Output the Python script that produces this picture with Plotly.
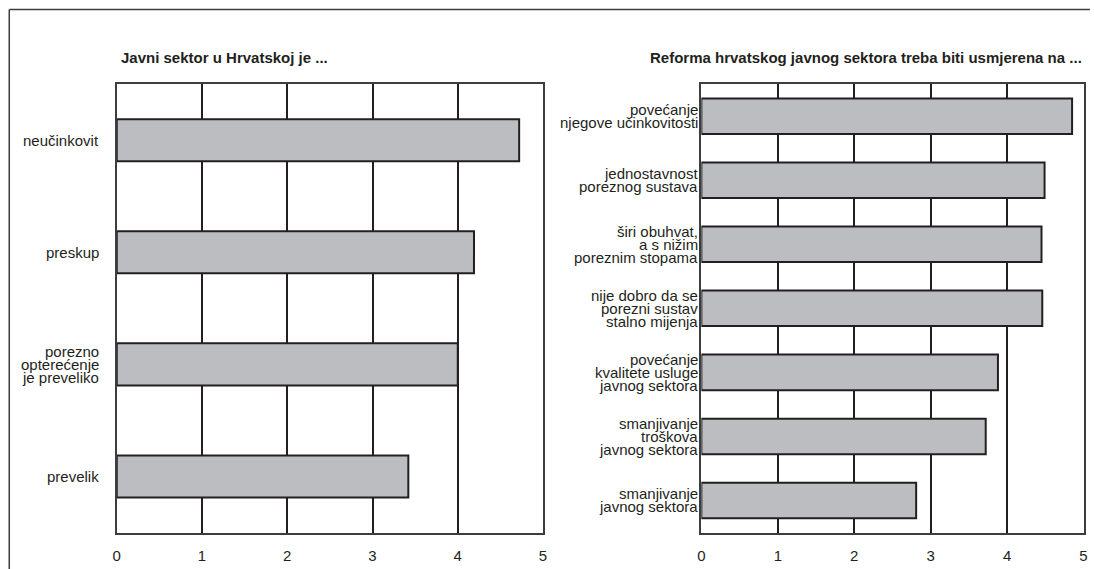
import plotly.graph_objects as go

# ---------------- data ----------------
left_title = "Javni sektor u Hrvatskoj je ..."
left_categories = [
    "neučinkovit",
    "preskup",
    "porezno<br>opterećenje<br>je preveliko",
    "prevelik",
]
left_values = [4.72, 4.19, 4.00, 3.42]

right_title = "Reforma hrvatskog javnog sektora treba biti usmjerena na ..."
right_categories = [
    "povećanje<br>njegove učinkovitosti",
    "jednostavnost<br>poreznog sustava",
    "širi obuhvat,<br>a s nižim<br>poreznim stopama",
    "nije dobro da se<br>porezni sustav<br>stalno mijenja",
    "povećanje<br>kvalitete usluge<br>javnog sektora",
    "smanjivanje<br>troškova<br>javnog sektora",
    "smanjivanje<br>javnog sektora",
]
right_values = [4.85, 4.49, 4.45, 4.46, 3.88, 3.72, 2.81]

x_ticks = [0, 1, 2, 3, 4, 5]

# ---------------- style ----------------
W, H = 1094, 569
FONT = "Liberation Sans, Arial, Helvetica, sans-serif"
BAR_FILL = "#bcbdc1"
INK = "#231f20"
FRAME = "#3d3d3d"
LINE_STEP = 13  # px between label lines

fig = go.Figure()

fig.add_trace(go.Bar(
    x=left_values, y=list(range(len(left_categories))), orientation="h",
    width=0.375, marker=dict(color=BAR_FILL, line=dict(color=INK, width=2)),
    xaxis="x", yaxis="y", hoverinfo="skip",
))
fig.add_trace(go.Bar(
    x=right_values, y=list(range(len(right_categories))), orientation="h",
    width=0.555, marker=dict(color=BAR_FILL, line=dict(color=INK, width=2)),
    xaxis="x2", yaxis="y2", hoverinfo="skip",
))

y_dom = [1 - 532.5 / H, 1 - 84.2 / H]

def xax(domain, anchor):
    return dict(
        domain=domain, anchor=anchor, range=[0, 5], tickvals=x_ticks,
        ticktext=[str(t) for t in x_ticks], showgrid=True, gridcolor=INK, gridwidth=2,
        showline=True, mirror=True, linecolor=FRAME, linewidth=2, zeroline=False,
        ticks="", ticklabelstandoff=8,
        tickfont=dict(family=FONT, size=15, color=INK), fixedrange=True,
    )

def yax(n, anchor):
    return dict(
        domain=y_dom, anchor=anchor, range=[n - 0.5, -0.5], type="linear",
        showticklabels=False, showgrid=False, zeroline=False,
        showline=True, mirror=True, linecolor=FRAME, linewidth=2, ticks="",
        fixedrange=True,
    )

annotations = []

def add_labels(cats, xref, yref, xshift):
    for i, cat in enumerate(cats):
        lines = cat.split("<br>")
        mid = (len(lines) - 1) / 2
        for j, line in enumerate(lines):
            annotations.append(dict(
                text=line, xref=xref, yref=yref, x=0, y=i,
                xanchor="right", yanchor="middle", xshift=xshift,
                yshift=(mid - j) * LINE_STEP, showarrow=False,
                font=dict(family=FONT, size=15, color=INK),
            ))

add_labels(left_categories, "x domain", "y", -16)
add_labels(right_categories, "x2 domain", "y2", -1)

annotations.append(dict(
    text="<b>" + left_title + "</b>", xref="paper", yref="paper",
    x=116 / W, y=1 - 57 / H, xanchor="left", yanchor="middle", showarrow=False,
    font=dict(family=FONT, size=15, color=INK),
))
annotations.append(dict(
    text="<b>" + right_title + "</b>", xref="paper", yref="paper",
    x=1088 / W, y=1 - 57 / H, xanchor="right", yanchor="middle", showarrow=False,
    font=dict(family=FONT, size=15, color=INK),
))

shapes = [
    dict(type="line", xref="paper", yref="paper", x0=5.3 / W, x1=1, y0=1 - 9.5 / H, y1=1 - 9.5 / H,
         line=dict(color=FRAME, width=1.5)),
    dict(type="line", xref="paper", yref="paper", x0=5.3 / W, x1=5.3 / W, y0=0, y1=1 - 9.5 / H,
         line=dict(color=FRAME, width=1.5)),
]

fig.update_layout(
    width=W, height=H, margin=dict(l=0, r=0, t=0, b=0),
    paper_bgcolor="white", plot_bgcolor="white", showlegend=False,
    xaxis=xax([113.6 / W, 543 / W], "y"),
    yaxis=yax(len(left_categories), "x"),
    xaxis2=xax([702.5 / W, 1087.5 / W], "y2"),
    yaxis2=yax(len(right_categories), "x2"),
    annotations=annotations, shapes=shapes,
    font=dict(family=FONT, size=15, color=INK),
)

fig.write_html(
    "out.html",
    config={"displayModeBar": False},
    post_script="document.body.style.margin='0';document.body.style.overflow='hidden';",
)
